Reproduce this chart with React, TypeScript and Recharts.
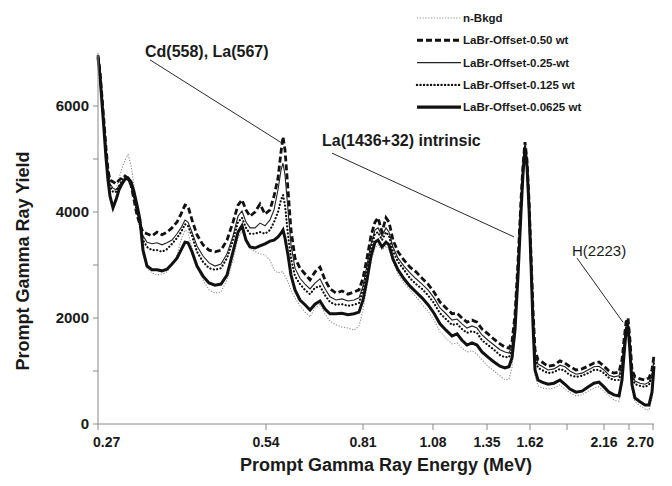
import { LineChart, Line, XAxis, YAxis, ReferenceLine, Legend } from 'recharts';

// x positions are detector channels (the energy axis in the figure is not linear)
const channels = [
  0, 2, 4, 6, 8, 10, 12, 15, 18, 21,
  24, 27, 30, 33, 36, 39, 42, 45, 49, 54,
  59, 64, 69, 74, 79, 83, 87, 90, 94, 99,
  105, 111, 117, 123, 129, 135, 140, 144, 148, 152,
  157, 162, 167, 172, 176, 180, 183, 185, 187, 190,
  193, 197, 202, 207, 212, 217, 222, 227, 232, 238,
  244, 250, 256, 261, 265, 269, 273, 277, 280, 284,
  288, 291, 295, 300, 306, 312, 318, 324, 330, 336,
  342, 348, 354, 359, 364, 369, 374, 379, 384, 390,
  396, 402, 407, 411, 414, 417, 420, 423, 425, 427,
  429, 431, 433, 435, 437, 440, 444, 450, 456, 462,
  467, 472, 478, 484, 490, 496, 501, 506, 511, 516,
  521, 524, 526, 528, 530, 532, 534, 537, 542, 547,
  551, 554, 556,
];

const energyTickChannels = [0, 168, 265, 335, 389, 432, 469, 506, 531, 555];
const energyTickLabels = ['0.27', '0.54', '0.81', '1.08', '1.35', '1.62', '', '2.16', '', '2.70'];
const yieldTicks = [0, 1000, 2000, 3000, 4000, 5000, 6000];

const bkgd = [
  6910, 6530, 6040, 5550, 5060, 4640, 4450, 4380, 4420, 4640,
  4830, 4980, 5080, 4890, 4510, 4130, 3700, 3190, 2940, 2850,
  2810, 2830, 2870, 3000, 3190, 3470, 3660, 3620, 3320, 2980,
  2720, 2530, 2470, 2490, 2720, 3090, 3510, 3640, 3470, 3320,
  3250, 3210, 3190, 3090, 2910, 2850, 2870, 2870, 2790, 2680,
  2530, 2380, 2230, 2110, 2020, 2190, 2260, 2080, 1940, 1870,
  1830, 1810, 1770, 1850, 2150, 2600, 3060, 3320, 3380, 3280,
  3360, 3280, 3060, 2830, 2660, 2530, 2400, 2260, 2130, 1960,
  1740, 1620, 1510, 1530, 1430, 1360, 1380, 1320, 1210, 1090,
  1000, 910, 830, 850, 1060, 1660, 2680, 3890, 4600, 5130,
  4790, 4000, 2910, 1740, 910, 720, 680, 660, 680, 740,
  660, 590, 530, 550, 620, 680, 700, 620, 530, 450,
  430, 740, 1210, 1640, 1770, 1280, 640, 420, 340, 280,
  260, 490, 980,
];

const offset050 = [
  6960, 6640, 6170, 5700, 5210, 4790, 4600, 4570, 4530, 4600,
  4640, 4680, 4640, 4510, 4230, 3940, 3760, 3620, 3590, 3550,
  3620, 3570, 3620, 3700, 3810, 3960, 4130, 4110, 3850, 3570,
  3380, 3280, 3250, 3280, 3470, 3810, 4130, 4230, 4040, 3920,
  4000, 4150, 3960, 4040, 4300, 4640, 5130, 5420, 5170, 4420,
  3660, 3130, 2940, 2830, 2720, 2870, 2960, 2720, 2550, 2470,
  2510, 2450, 2490, 2530, 2750, 3130, 3550, 3810, 3890, 3620,
  3890, 3810, 3470, 3250, 3090, 2960, 2870, 2750, 2640, 2490,
  2300, 2190, 2080, 2090, 2000, 1920, 1960, 1920, 1790, 1700,
  1600, 1510, 1450, 1430, 1550, 2060, 3060, 4230, 4890, 5320,
  4980, 4230, 3190, 2150, 1400, 1210, 1170, 1090, 1110, 1190,
  1150, 1080, 1020, 1040, 1090, 1150, 1170, 1090, 1000, 960,
  980, 1210, 1580, 1920, 2000, 1580, 1020, 890, 850, 830,
  870, 1020, 1300,
];

const offset025 = [
  6940, 6600, 6110, 5620, 5130, 4720, 4530, 4450, 4420, 4490,
  4570, 4620, 4600, 4490, 4260, 4000, 3760, 3550, 3430, 3400,
  3420, 3380, 3420, 3470, 3590, 3700, 3850, 3810, 3620, 3360,
  3170, 3040, 2980, 3020, 3210, 3550, 3920, 4020, 3810, 3700,
  3700, 3790, 3740, 3850, 4040, 4420, 4790, 4920, 4700, 4040,
  3380, 2940, 2750, 2640, 2550, 2660, 2740, 2550, 2400, 2340,
  2360, 2320, 2340, 2380, 2600, 3000, 3400, 3660, 3700, 3550,
  3700, 3620, 3340, 3130, 2980, 2850, 2740, 2640, 2530, 2380,
  2190, 2080, 1960, 1980, 1890, 1810, 1850, 1810, 1680, 1580,
  1490, 1400, 1360, 1340, 1470, 2000, 2980, 4150, 4830, 5280,
  4940, 4190, 3130, 2080, 1320, 1130, 1090, 1020, 1040, 1110,
  1080, 1000, 940, 960, 1020, 1080, 1090, 1020, 920, 890,
  910, 1130, 1510, 1850, 1940, 1510, 940, 810, 770, 750,
  790, 940, 1210,
];

const offset0125 = [
  6940, 6620, 6150, 5660, 5170, 4750, 4490, 4380, 4380, 4490,
  4600, 4680, 4640, 4530, 4300, 4000, 3740, 3470, 3340, 3280,
  3280, 3250, 3300, 3400, 3510, 3620, 3770, 3740, 3550, 3250,
  3060, 2940, 2910, 2940, 3130, 3470, 3810, 3890, 3700, 3590,
  3590, 3620, 3590, 3660, 3810, 4000, 4230, 4320, 4130, 3570,
  3130, 2790, 2640, 2530, 2450, 2570, 2600, 2430, 2300, 2250,
  2260, 2230, 2250, 2280, 2530, 2910, 3320, 3590, 3620, 3470,
  3620, 3550, 3260, 3060, 2910, 2750, 2640, 2550, 2430, 2280,
  2090, 1980, 1870, 1890, 1790, 1720, 1750, 1720, 1580, 1490,
  1400, 1300, 1260, 1260, 1400, 1920, 2910, 4090, 4790, 5260,
  4910, 4150, 3090, 2000, 1250, 1060, 1020, 960, 980, 1040,
  1000, 920, 890, 910, 960, 1020, 1020, 960, 870, 830,
  830, 1060, 1450, 1810, 1910, 1450, 890, 750, 720, 700,
  740, 890, 1170,
];

const offset00625 = [
  6920, 6570, 6060, 5550, 5020, 4600, 4300, 4080, 4230, 4420,
  4530, 4620, 4640, 4570, 4380, 4130, 3850, 3280, 2980, 2910,
  2910, 2890, 2920, 3020, 3130, 3280, 3430, 3420, 3250, 2980,
  2790, 2660, 2620, 2640, 2810, 3250, 3620, 3740, 3470, 3340,
  3320, 3360, 3400, 3450, 3470, 3530, 3600, 3660, 3510, 3190,
  2810, 2530, 2340, 2250, 2150, 2260, 2320, 2170, 2080, 2080,
  2090, 2060, 2080, 2110, 2340, 2720, 3170, 3430, 3470, 3340,
  3430, 3380, 3110, 2910, 2740, 2600, 2490, 2380, 2250, 2090,
  1890, 1770, 1660, 1700, 1580, 1490, 1530, 1490, 1360, 1260,
  1170, 1090, 1060, 1080, 1250, 1770, 2790, 4000, 4720, 5210,
  4870, 4080, 3020, 1870, 1020, 830, 790, 750, 770, 830,
  750, 660, 600, 620, 700, 770, 790, 700, 600, 550,
  530, 830, 1300, 1740, 1850, 1360, 740, 490, 420, 360,
  360, 600, 1090,
];

// leader lines of the peak labels, in [channel, yield]
const annotationLabels = ['Cd(558), La(567)', 'La(1436+32) intrinsic', 'H(2223)'];
const annotationFrom = [[52, 6870], [234, 5110], [479, 3130]];
const annotationTo = [[184, 5300], [416, 3530], [525, 1920]];

const series = [
  { key: 'bkgd', name: 'n-Bkgd', values: bkgd, stroke: '#8f8f8f', width: 1.1, dash: '1.2 1.6', cap: 'butt' },
  { key: 'o050', name: 'LaBr-Offset-0.50 wt', values: offset050, stroke: '#111', width: 2.8, dash: '6 3', cap: 'butt' },
  { key: 'o025', name: 'LaBr-Offset-0.25-wt', values: offset025, stroke: '#222', width: 1.1, dash: undefined, cap: 'butt' },
  { key: 'o0125', name: 'LaBr-Offset-0.125 wt', values: offset0125, stroke: '#111', width: 2.2, dash: '0.1 3.4', cap: 'round' },
  { key: 'o00625', name: 'LaBr-Offset-0.0625 wt', values: offset00625, stroke: '#111', width: 3, dash: undefined, cap: 'butt' },
];

const chartData = channels.map((ch, i) => {
  const row: { [key: string]: number } = { ch };
  series.forEach((s) => {
    row[s.key] = s.values[i];
  });
  return row;
});

const font = '"Liberation Sans", Arial, sans-serif';
const axisGray = '#8a8a8a';

const EnergyTick = (props: any) => {
  const { x, y, payload, index } = props;
  const label = energyTickLabels[energyTickChannels.indexOf(payload.value)] ?? '';
  let anchor: 'start' | 'middle' | 'end' = 'middle';
  let dx = 0;
  if (index === 0) {
    anchor = 'start';
    dx = -5;
  } else if (index === energyTickChannels.length - 1) {
    anchor = 'end';
    dx = 1;
  }
  return (
    <text x={x + dx} y={y} dy={14} textAnchor={anchor} fontSize={14} fontWeight="bold" fill="#1a1a1a" fontFamily={font}>
      {label}
    </text>
  );
};

const LegendBox = () => (
  <svg width={220} height={116} style={{ display: 'block' }}>
    {series.map((s, i) => {
      const cy = 13 + i * 22.3;
      return (
        <g key={s.key}>
          <line
            x1={6}
            x2={50}
            y1={cy}
            y2={cy}
            stroke={s.stroke}
            strokeWidth={s.width < 1.5 ? 1.2 : s.width + 0.2}
            strokeDasharray={s.dash}
            strokeLinecap={s.cap as any}
          />
          <text x={52} y={cy + 4} fontSize={11.5} fontWeight="bold" fill="#1a1a1a" fontFamily={font}>
            {s.name}
          </text>
        </g>
      );
    })}
  </svg>
);

export default function App() {
  return (
    <div style={{ position: 'absolute', left: 0, top: 0, width: 672, height: 486, background: '#fff', fontFamily: font }}>
      <LineChart width={672} height={486} data={chartData} margin={{ top: 53, right: 18, bottom: 0, left: 0 }}>
        <XAxis
          type="number"
          dataKey="ch"
          domain={[0, 556]}
          ticks={energyTickChannels}
          interval={0}
          height={62}
          tickSize={6}
          tickMargin={3}
          tick={<EnergyTick />}
          tickLine={{ stroke: axisGray }}
          axisLine={{ stroke: axisGray }}
        />
        <YAxis
          type="number"
          domain={[0, 7000]}
          ticks={yieldTicks}
          interval={0}
          width={98}
          tickSize={5}
          tickMargin={4}
          tickFormatter={(v: number) => (v % 2000 === 0 ? String(v) : '')}
          tick={{ fontSize: 15, fontWeight: 'bold', fill: '#1a1a1a', fontFamily: font }}
          tickLine={{ stroke: axisGray }}
          axisLine={{ stroke: axisGray }}
        />
        <Legend
          layout="vertical"
          align="center"
          verticalAlign="middle"
          wrapperStyle={{ top: 5, left: 411, width: 220, height: 116 }}
          content={() => <LegendBox />}
        />
        {series.map((s) => (
          <Line
            key={s.key}
            type="linear"
            dataKey={s.key}
            name={s.name}
            stroke={s.stroke}
            strokeWidth={s.width}
            strokeDasharray={s.dash}
            strokeLinecap={s.cap as any}
            dot={false}
            activeDot={false}
            isAnimationActive={false}
          />
        ))}
        {annotationFrom.map((from, i) => (
          <ReferenceLine
            key={annotationLabels[i]}
            segment={[
              { x: from[0], y: from[1] },
              { x: annotationTo[i][0], y: annotationTo[i][1] },
            ]}
            stroke="#2a2a2a"
            strokeWidth={1}
            ifOverflow="visible"
          />
        ))}
      </LineChart>

      {/* axis titles and peak labels */}
      <div style={{ position: 'absolute', left: 240, top: 456, fontSize: 18, lineHeight: '18px', fontWeight: 'bold', color: '#1a1a1a', whiteSpace: 'nowrap' }}>
        Prompt Gamma Ray Energy (MeV)
      </div>
      <div
        style={{
          position: 'absolute',
          left: 23 - 130,
          top: 261 - 11,
          width: 260,
          height: 22,
          lineHeight: '22px',
          textAlign: 'center',
          fontSize: 18,
          fontWeight: 'bold',
          color: '#1a1a1a',
          transform: 'rotate(-90deg)',
          whiteSpace: 'nowrap',
        }}
      >
        Prompt Gamma Ray Yield
      </div>
      <div style={{ position: 'absolute', left: 145, top: 43, fontSize: 16, lineHeight: '18px', fontWeight: 'bold', color: '#1a1a1a', whiteSpace: 'nowrap' }}>
        {annotationLabels[0]}
      </div>
      <div style={{ position: 'absolute', left: 322, top: 132, fontSize: 16, lineHeight: '18px', fontWeight: 'bold', color: '#1a1a1a', whiteSpace: 'nowrap' }}>
        {annotationLabels[1]}
      </div>
      <div style={{ position: 'absolute', left: 572, top: 242, fontSize: 15, lineHeight: '18px', color: '#1a1a1a', whiteSpace: 'nowrap' }}>
        {annotationLabels[2]}
      </div>
    </div>
  );
}
